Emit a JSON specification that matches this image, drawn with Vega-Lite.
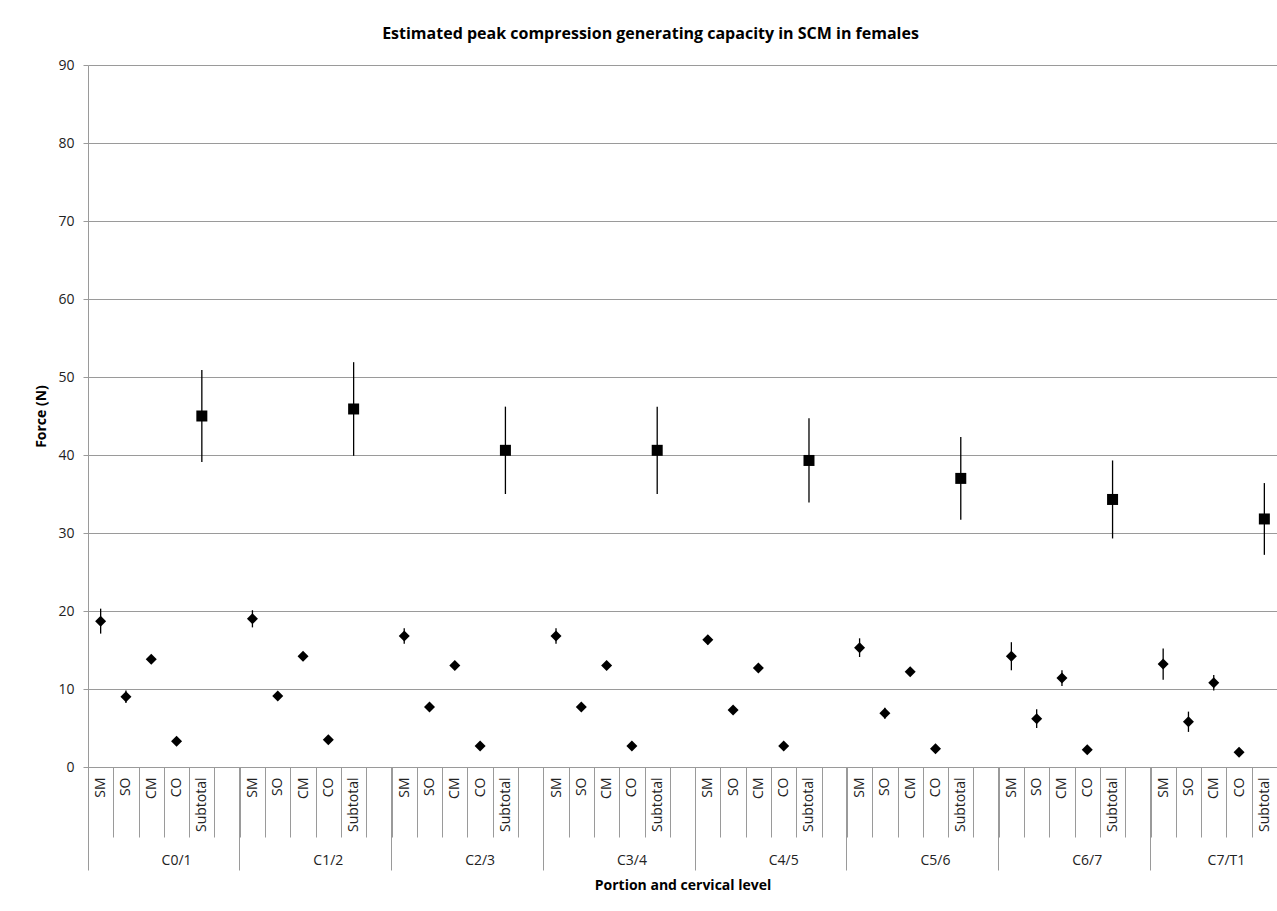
{
  "$schema": "https://vega.github.io/schema/vega-lite/v6.json",
  "width": 1189,
  "height": 702,
  "autosize": {"type": "none"},
  "padding": {"left": 88, "top": 65, "right": 0, "bottom": 144},
  "background": "white",
  "title": {
    "text": "Estimated peak compression generating capacity in SCM in females",
    "font": "Open Sans",
    "fontSize": 16,
    "fontWeight": "bold",
    "color": "black",
    "anchor": "middle",
    "frame": "group",
    "dx": -32,
    "offset": 16
  },
  "config": {
    "view": {"stroke": null},
    "axis": {"labelFont": "Open Sans", "titleFont": "Open Sans"}
  },
  "data": {
    "values": [
      {"category": "C0/1|SM", "level": "C0/1", "portion": "SM", "force": 18.7, "sd": 1.6},
      {"category": "C0/1|SO", "level": "C0/1", "portion": "SO", "force": 9.0, "sd": 0.8},
      {"category": "C0/1|CM", "level": "C0/1", "portion": "CM", "force": 13.8, "sd": 0.5},
      {"category": "C0/1|CO", "level": "C0/1", "portion": "CO", "force": 3.3, "sd": 0.3},
      {"category": "C0/1|Subtotal", "level": "C0/1", "portion": "Subtotal", "force": 45.0, "sd": 5.9},
      {"category": "C1/2|SM", "level": "C1/2", "portion": "SM", "force": 19.0, "sd": 1.1},
      {"category": "C1/2|SO", "level": "C1/2", "portion": "SO", "force": 9.1, "sd": 0.5},
      {"category": "C1/2|CM", "level": "C1/2", "portion": "CM", "force": 14.2, "sd": 0.4},
      {"category": "C1/2|CO", "level": "C1/2", "portion": "CO", "force": 3.5, "sd": 0.3},
      {"category": "C1/2|Subtotal", "level": "C1/2", "portion": "Subtotal", "force": 45.9, "sd": 6.0},
      {"category": "C2/3|SM", "level": "C2/3", "portion": "SM", "force": 16.8, "sd": 1.0},
      {"category": "C2/3|SO", "level": "C2/3", "portion": "SO", "force": 7.7, "sd": 0.4},
      {"category": "C2/3|CM", "level": "C2/3", "portion": "CM", "force": 13.0, "sd": 0.4},
      {"category": "C2/3|CO", "level": "C2/3", "portion": "CO", "force": 2.7, "sd": 0.3},
      {"category": "C2/3|Subtotal", "level": "C2/3", "portion": "Subtotal", "force": 40.6, "sd": 5.6},
      {"category": "C3/4|SM", "level": "C3/4", "portion": "SM", "force": 16.8, "sd": 1.0},
      {"category": "C3/4|SO", "level": "C3/4", "portion": "SO", "force": 7.7, "sd": 0.4},
      {"category": "C3/4|CM", "level": "C3/4", "portion": "CM", "force": 13.0, "sd": 0.4},
      {"category": "C3/4|CO", "level": "C3/4", "portion": "CO", "force": 2.7, "sd": 0.3},
      {"category": "C3/4|Subtotal", "level": "C3/4", "portion": "Subtotal", "force": 40.6, "sd": 5.6},
      {"category": "C4/5|SM", "level": "C4/5", "portion": "SM", "force": 16.3, "sd": 0.6},
      {"category": "C4/5|SO", "level": "C4/5", "portion": "SO", "force": 7.3, "sd": 0.4},
      {"category": "C4/5|CM", "level": "C4/5", "portion": "CM", "force": 12.7, "sd": 0.4},
      {"category": "C4/5|CO", "level": "C4/5", "portion": "CO", "force": 2.7, "sd": 0.3},
      {"category": "C4/5|Subtotal", "level": "C4/5", "portion": "Subtotal", "force": 39.3, "sd": 5.4},
      {"category": "C5/6|SM", "level": "C5/6", "portion": "SM", "force": 15.3, "sd": 1.2},
      {"category": "C5/6|SO", "level": "C5/6", "portion": "SO", "force": 6.9, "sd": 0.7},
      {"category": "C5/6|CM", "level": "C5/6", "portion": "CM", "force": 12.2, "sd": 0.5},
      {"category": "C5/6|CO", "level": "C5/6", "portion": "CO", "force": 2.35, "sd": 0.3},
      {"category": "C5/6|Subtotal", "level": "C5/6", "portion": "Subtotal", "force": 37.0, "sd": 5.3},
      {"category": "C6/7|SM", "level": "C6/7", "portion": "SM", "force": 14.2, "sd": 1.8},
      {"category": "C6/7|SO", "level": "C6/7", "portion": "SO", "force": 6.2, "sd": 1.2},
      {"category": "C6/7|CM", "level": "C6/7", "portion": "CM", "force": 11.4, "sd": 1.0},
      {"category": "C6/7|CO", "level": "C6/7", "portion": "CO", "force": 2.2, "sd": 0.3},
      {"category": "C6/7|Subtotal", "level": "C6/7", "portion": "Subtotal", "force": 34.3, "sd": 5.0},
      {"category": "C7/T1|SM", "level": "C7/T1", "portion": "SM", "force": 13.2, "sd": 2.0},
      {"category": "C7/T1|SO", "level": "C7/T1", "portion": "SO", "force": 5.8, "sd": 1.3},
      {"category": "C7/T1|CM", "level": "C7/T1", "portion": "CM", "force": 10.8, "sd": 1.0},
      {"category": "C7/T1|CO", "level": "C7/T1", "portion": "CO", "force": 1.9, "sd": 0.3},
      {"category": "C7/T1|Subtotal", "level": "C7/T1", "portion": "Subtotal", "force": 31.8, "sd": 4.6}
    ]
  },
  "resolve": {"axis": {"x": "independent"}},
  "layer": [
    {
      "mark": {"type": "errorbar", "color": "black", "thickness": 1.3},
      "encoding": {
        "x": {
          "field": "category",
          "type": "nominal",
          "scale": {
            "domain": [
              "C0/1|SM", "C0/1|SO", "C0/1|CM", "C0/1|CO", "C0/1|Subtotal", "C0/1|",
              "C1/2|SM", "C1/2|SO", "C1/2|CM", "C1/2|CO", "C1/2|Subtotal", "C1/2|",
              "C2/3|SM", "C2/3|SO", "C2/3|CM", "C2/3|CO", "C2/3|Subtotal", "C2/3|",
              "C3/4|SM", "C3/4|SO", "C3/4|CM", "C3/4|CO", "C3/4|Subtotal", "C3/4|",
              "C4/5|SM", "C4/5|SO", "C4/5|CM", "C4/5|CO", "C4/5|Subtotal", "C4/5|",
              "C5/6|SM", "C5/6|SO", "C5/6|CM", "C5/6|CO", "C5/6|Subtotal", "C5/6|",
              "C6/7|SM", "C6/7|SO", "C6/7|CM", "C6/7|CO", "C6/7|Subtotal", "C6/7|",
              "C7/T1|SM", "C7/T1|SO", "C7/T1|CM", "C7/T1|CO", "C7/T1|Subtotal"
            ],
            "paddingInner": 0,
            "paddingOuter": 0
          },
          "axis": {
            "orient": "bottom",
            "title": null,
            "grid": false,
            "tickBand": "extent",
            "tickSize": 70,
            "tickColor": "#9a9a9a",
            "domainColor": "#9a9a9a",
            "labelAngle": -90,
            "labelAlign": "right",
            "labelBaseline": "middle",
            "labelPadding": -60,
            "labelFontSize": 14,
            "labelColor": "#222222",
            "labelExpr": "split(datum.value, '|')[1]"
          }
        },
        "y": {
          "field": "force",
          "type": "quantitative",
          "scale": {"domain": [0, 90], "nice": false},
          "axis": {
            "title": "Force (N)",
            "titleFontSize": 14,
            "titleFontWeight": "bold",
            "titleColor": "black",
            "titlePadding": 9,
            "values": [0, 10, 20, 30, 40, 50, 60, 70, 80, 90],
            "grid": true,
            "gridColor": "#9a9a9a",
            "domainColor": "#9a9a9a",
            "tickColor": "#9a9a9a",
            "tickSize": 5,
            "labelPadding": 9,
            "labelFontSize": 14,
            "labelColor": "#222222"
          }
        },
        "yError": {"field": "sd"}
      }
    },
    {
      "mark": {"type": "point", "filled": true, "color": "black", "opacity": 1},
      "encoding": {
        "x": {
          "field": "category",
          "type": "nominal",
          "axis": {
            "orient": "bottom",
            "values": ["C0/1|SM", "C1/2|SM", "C2/3|SM", "C3/4|SM", "C4/5|SM", "C5/6|SM", "C6/7|SM", "C7/T1|SM"],
            "bandPosition": 0,
            "domain": false,
            "grid": false,
            "tickSize": 103,
            "tickColor": "#9a9a9a",
            "labelAngle": 0,
            "labelAlign": "center",
            "labelBaseline": "top",
            "labelPadding": -17,
            "labelFontSize": 14,
            "labelColor": "#222222",
            "labelOffset": {"condition": {"test": "datum.value === 'C7/T1|SM'", "value": 63.25}, "value": 75.9},
            "labelExpr": "split(datum.value, '|')[0]",
            "title": "Portion and cervical level",
            "titleFontSize": 14,
            "titleFontWeight": "bold",
            "titleColor": "black",
            "titlePadding": 8
          }
        },
        "y": {"field": "force", "type": "quantitative"},
        "shape": {
          "field": "portion",
          "type": "nominal",
          "scale": {"domain": ["SM", "SO", "CM", "CO", "Subtotal"], "range": ["diamond", "diamond", "diamond", "diamond", "square"]},
          "legend": null
        },
        "size": {
          "field": "portion",
          "type": "nominal",
          "scale": {"domain": ["SM", "SO", "CM", "CO", "Subtotal"], "range": [121, 121, 121, 121, 130]},
          "legend": null
        }
      }
    }
  ]
}
